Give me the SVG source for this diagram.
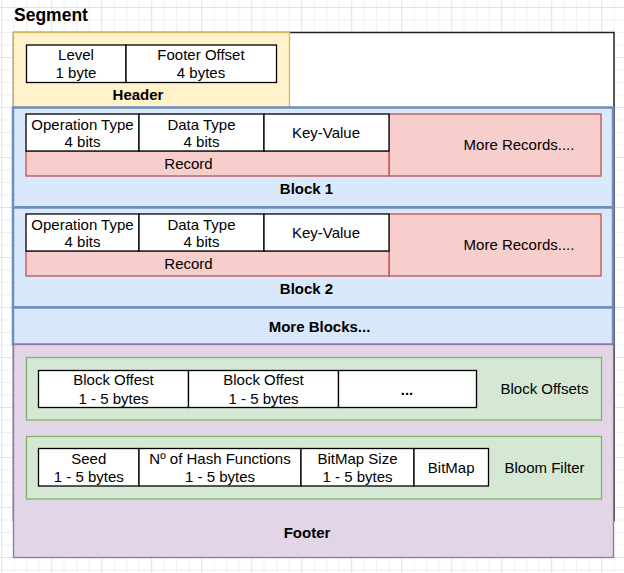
<svg xmlns="http://www.w3.org/2000/svg" width="624" height="573" viewBox="0 0 624 573">
  <defs>
    <!-- background grid: minor every 12.5px, major every 50px -->
    <pattern id="grid" patternUnits="userSpaceOnUse" x="1.2" y="7" width="50" height="50">
      <rect x="0" y="0" width="50" height="50" fill="#ffffff"/>
      <g fill="#f0f0f0">
        <rect x="12.5" y="0" width="1" height="50"/>
        <rect x="25" y="0" width="1" height="50"/>
        <rect x="37.5" y="0" width="1" height="50"/>
        <rect x="0" y="12.5" width="50" height="1"/>
        <rect x="0" y="25" width="50" height="1"/>
        <rect x="0" y="37.5" width="50" height="1"/>
      </g>
      <g fill="#e2e2e2">
        <rect x="0" y="0" width="1" height="50"/>
        <rect x="0" y="0" width="50" height="1"/>
      </g>
    </pattern>
  </defs>
  <style>
    text { font-family: "Liberation Sans", Arial, sans-serif; font-size: 15px; fill: #000; text-anchor: middle; }
    .b { font-weight: bold; }
    .title { font-size: 17.5px; text-anchor: start; }
    .cell { fill: #ffffff; stroke: #000000; stroke-width: 1.3; }
    .header { fill: #fff2cc; stroke: #d6b656; stroke-width: 1.3; }
    .block { fill: #dae8fc; stroke: #6c8ebf; stroke-width: 2.5; }
    .rec { fill: #f8cecc; stroke: #b85450; stroke-width: 1.3; }
    .grp { fill: #d5e8d4; stroke: #82b366; stroke-width: 1.3; }
    .footer { fill: #e1d5e7; stroke: #9673a6; stroke-width: 1.3; }
  </style>

  <rect x="0" y="0" width="624" height="573" fill="url(#grid)"/>

  <g id="segment">
    <text class="b title" x="14" y="20.5">Segment</text>
    <rect x="13.5" y="32.5" width="600.5" height="488" fill="#ffffff" stroke="#222222" stroke-width="1.5"/>
  </g>

  <g id="header">
    <rect class="header" x="13.5" y="32.5" width="276" height="75"/>
    <rect class="cell" x="26.5" y="45" width="99.5" height="37.5"/>
    <rect class="cell" x="126" y="45" width="150.5" height="37.5"/>
    <text x="76" y="59.5">Level</text>
    <text x="76" y="78">1 byte</text>
    <text x="201" y="59.5">Footer Offset</text>
    <text x="201" y="78">4 bytes</text>
    <text class="b" x="138" y="100.3">Header</text>
  </g>

  <g id="block1">
    <rect class="block" x="13" y="107.5" width="600" height="100"/>
    <rect class="rec" x="389" y="114" width="212" height="62"/>
    <rect class="rec" x="26" y="151" width="363" height="25"/>
    <rect class="cell" x="26" y="114" width="113" height="37"/>
    <rect class="cell" x="139" y="114" width="125" height="37"/>
    <rect class="cell" x="264" y="114" width="125" height="37"/>
    <text x="82.5" y="129.7">Operation Type</text>
    <text x="82.5" y="147">4 bits</text>
    <text x="201.5" y="129.7">Data Type</text>
    <text x="201.5" y="147">4 bits</text>
    <text x="326" y="138.4">Key-Value</text>
    <text x="188.5" y="168.7">Record</text>
    <text x="519" y="150.4">More Records....</text>
    <text class="b" x="306.5" y="194.3">Block 1</text>
  </g>

  <g id="block2">
    <rect class="block" x="13" y="207.5" width="600" height="100"/>
    <rect class="rec" x="389" y="214" width="212" height="62"/>
    <rect class="rec" x="26" y="251" width="363" height="25"/>
    <rect class="cell" x="26" y="214" width="113" height="37"/>
    <rect class="cell" x="139" y="214" width="125" height="37"/>
    <rect class="cell" x="264" y="214" width="125" height="37"/>
    <text x="82.5" y="229.7">Operation Type</text>
    <text x="82.5" y="247">4 bits</text>
    <text x="201.5" y="229.7">Data Type</text>
    <text x="201.5" y="247">4 bits</text>
    <text x="326" y="238.4">Key-Value</text>
    <text x="188.5" y="268.7">Record</text>
    <text x="519" y="250.4">More Records....</text>
    <text class="b" x="306.5" y="294.3">Block 2</text>
  </g>

  <g id="more-blocks">
    <rect class="block" x="13" y="307.5" width="600" height="37"/>
    <text class="b" x="319.5" y="332">More Blocks...</text>
  </g>

  <g id="footer">
    <rect class="footer" x="13.5" y="344.5" width="600" height="213"/>
    <text class="b" x="307" y="538">Footer</text>
  </g>

  <g id="block-offsets">
    <rect class="grp" x="26.5" y="357.5" width="575" height="62.5"/>
    <rect class="cell" x="38.5" y="370.5" width="150" height="37"/>
    <rect class="cell" x="188.5" y="370.5" width="150" height="37"/>
    <rect class="cell" x="338.5" y="370.5" width="138" height="37"/>
    <text x="113.5" y="385.4">Block Offest</text>
    <text x="113.5" y="403.7">1 - 5 bytes</text>
    <text x="263.5" y="385.4">Block Offest</text>
    <text x="263.5" y="403.7">1 - 5 bytes</text>
    <text class="b" x="407" y="395">...</text>
    <text x="544.5" y="394.4">Block Offsets</text>
  </g>

  <g id="bloom-filter">
    <rect class="grp" x="26.5" y="436.5" width="575" height="62.5"/>
    <rect class="cell" x="38.5" y="448.5" width="100.5" height="37.5"/>
    <rect class="cell" x="139" y="448.5" width="162" height="37.5"/>
    <rect class="cell" x="301" y="448.5" width="113" height="37.5"/>
    <rect class="cell" x="414" y="448.5" width="74.5" height="37.5"/>
    <text x="88.8" y="464.4">Seed</text>
    <text x="88.8" y="482">1 - 5 bytes</text>
    <text x="220" y="464.4">Nº of Hash Functions</text>
    <text x="220" y="482">1 - 5 bytes</text>
    <text x="357.5" y="464.4">BitMap Size</text>
    <text x="357.5" y="482">1 - 5 bytes</text>
    <text x="451.2" y="473">BitMap</text>
    <text x="544.5" y="473">Bloom Filter</text>
  </g>
</svg>
